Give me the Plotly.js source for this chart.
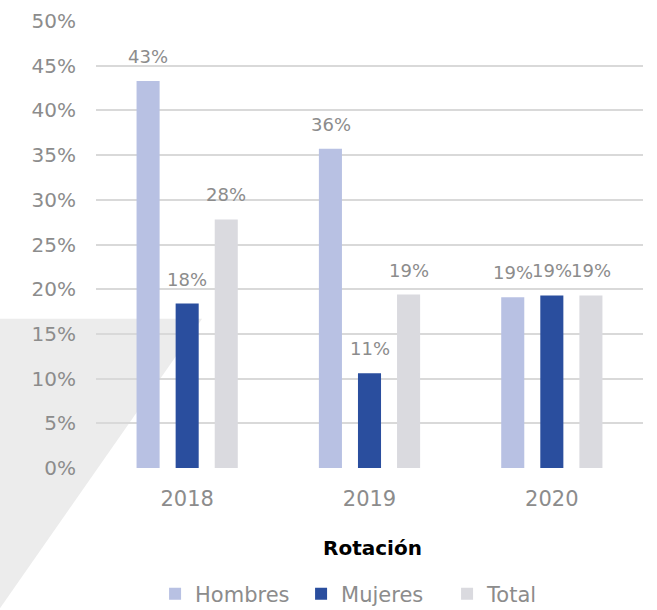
<!DOCTYPE html>
<html>
<head>
<meta charset="utf-8">
<script src="https://cdn.plot.ly/plotly-3.0.1.min.js"></script>
<style>html,body{margin:0;padding:0;background:#fff;}#chart{width:657px;height:610px;}</style>
</head>
<body>
<div id="chart"></div>
<script>
// ---- data ----
const years = ['2018', '2019', '2020'];
const hombres = [43.3, 35.7, 19.1];
const mujeres = [18.4, 10.6, 19.3];
const total = [27.8, 19.4, 19.3];
const seriesNames = ['Hombres', 'Mujeres', 'Total'];
const yTickVals = [0, 5, 10, 15, 20, 25, 30, 35, 40, 45, 50];
const yTickText = ['0%', '5%', '10%', '15%', '20%', '25%', '30%', '35%', '40%', '45%', '50%'];
const axisTitle = 'Rotación';

// ---- styles ----
const FONT = 'DejaVu Sans';
const GRAY = '#8c8c8c';
const colors = ['#b8c1e3', '#2a4e9e', '#dadadf'];
const seriesValues = [hombres, mujeres, total];

const traces = seriesValues.map((vals, i) => ({
  type: 'bar',
  name: seriesNames[i],
  x: years,
  y: vals,
  marker: {color: colors[i]},
  hoverinfo: 'skip'
}));

// value labels, placed through the axes' scales (category index on x)
const SLOT = 39;
const annotations = [];
seriesValues.forEach((vals, i) => {
  vals.forEach((v, j) => {
    annotations.push({
      x: j, y: v, xref: 'x', yref: 'y',
      xshift: (i - 1) * SLOT, yshift: 12,
      yanchor: 'bottom', xanchor: 'center',
      text: Math.round(v) + '%', showarrow: false,
      font: {family: FONT, size: 18, color: GRAY}
    });
  });
});
annotations.push({
  x: 0.505, y: -0.179, xref: 'paper', yref: 'paper',
  text: '<b>' + axisTitle + '</b>', showarrow: false,
  xanchor: 'center', yanchor: 'middle',
  font: {family: FONT, size: 20, color: '#000'}
});

const layout = {
  width: 657, height: 610,
  margin: {l: 96, r: 14, t: 21, b: 142},
  paper_bgcolor: '#fff', plot_bgcolor: 'rgba(0,0,0,0)',
  barmode: 'group', bargap: 0.357, bargroupgap: 0.41,
  showlegend: true,
  legend: {
    orientation: 'h', xref: 'paper', yref: 'container',
    x: 0.108, xanchor: 'left', y: 0.026, yanchor: 'middle',
    entrywidth: 101, entrywidthmode: 'pixels',
    font: {family: FONT, size: 21, color: GRAY},
    itemclick: false, itemdoubleclick: false
  },
  xaxis: {
    type: 'category', range: [-0.5, 2.5], automargin: false,
    tickfont: {family: FONT, size: 21, color: GRAY},
    showgrid: false, zeroline: false, showline: false,
    ticks: 'outside', ticklen: 12, tickcolor: 'rgba(0,0,0,0)'
  },
  yaxis: {
    range: [0, 50], automargin: false,
    tickvals: yTickVals, ticktext: yTickText,
    tickfont: {family: FONT, size: 20, color: GRAY},
    showgrid: true, gridcolor: '#d9d9d9', gridwidth: 2,
    zeroline: true, zerolinecolor: 'rgba(0,0,0,0)',
    showline: false,
    ticks: 'outside', ticklen: 15, tickcolor: 'rgba(0,0,0,0)'
  },
  shapes: [{
    type: 'path', xref: 'paper', yref: 'paper', layer: 'below',
    path: 'M -0.178 0.334 L 0.194 0.334 L -0.178 -0.318 Z',
    fillcolor: '#ececec', line: {width: 0}
  }],
  annotations: annotations
};

Plotly.newPlot('chart', traces, layout, {displayModeBar: false, staticPlot: true});
</script>
</body>
</html>
